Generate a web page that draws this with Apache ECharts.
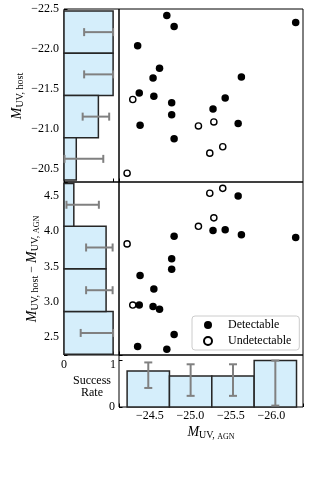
<!DOCTYPE html>
<html><head><meta charset="utf-8">
<script src="https://cdn.jsdelivr.net/npm/echarts/dist/echarts.min.js"></script>
<style>html,body{margin:0;padding:0;background:#fff}#c{width:320px;height:480px}</style>
</head><body><div id="c"></div>
<script>
// ---- scatter data ----
const agnDet  = [-24.71,-24.80,-24.35,-26.30,-24.62,-24.54,-25.63,-24.37,-24.55,-24.77,-25.43,-25.28,-24.77,-24.38,-25.59,-24.80];
const hostDet = [-22.42,-22.28,-22.04,-22.33,-21.76,-21.64,-21.65,-21.45,-21.41,-21.33,-21.39,-21.25,-21.18,-21.05,-21.07,-20.88];
const diffDet = [2.32,2.53,2.36,3.91,2.89,2.93,3.95,2.95,3.18,3.46,4.02,4.01,3.61,3.37,4.50,3.93];
const agnUnd  = [-24.29,-25.10,-25.29,-25.40,-25.24,-24.22];
const hostUnd = [-21.37,-21.04,-21.09,-20.78,-20.70,-20.45];
const diffUnd = [2.95,4.07,4.19,4.61,4.54,3.82];
// ---- success-rate histograms ----
const hostEdges = [-22.475,-21.9475,-21.42,-20.8925,-20.365];
const hostRate  = [1.0,1.0,0.7,0.25];
const hostErrLo = [0.41,0.41,0.38,0.01];
const hostErrHi = [1.0,1.0,0.92,0.80];
const diffEdges = [2.25,2.8575,3.465,4.0725,4.68];
const diffRate  = [1.0,0.857,0.857,0.2];
const diffErrLo = [0.34,0.45,0.45,0.05];
const diffErrHi = [1.0,0.99,0.99,0.71];
const agnEdges  = [-24.22,-24.7425,-25.265,-25.7875,-26.31];
const agnRate   = [0.778,0.667,0.667,1.0];
const agnErrLo  = [0.41,0.24,0.24,0.03];
const agnErrHi  = [0.96,0.92,0.92,1.0];
// ---- tick labels ----
const hostTicks = [-22.5,-22.0,-21.5,-21.0,-20.5];
const diffTicks = [2.5,3.0,3.5,4.0,4.5];
const agnTicks  = [-24.5,-25.0,-25.5,-26.0];

const FONT = 'Liberation Serif';
const FILL = '#d5eefb', EDGE = '#262626', ERR = '#808080';

function binData(edges, rate, lo, hi){
  return rate.map((r,i)=>[edges[i],edges[i+1],r,lo[i],hi[i]]);
}
function fmt(list){
  return function(v){
    for (const t of list){ if (Math.abs(v-t)<1e-6) return (t<0?'\u2212':'')+Math.abs(t).toFixed(1); }
    return '';
  };
}
function histH(params, api){
  const a = api.coord([0, api.value(0)]), b = api.coord([api.value(2), api.value(1)]);
  return {type:'rect', shape:{x:Math.min(a[0],b[0]), y:Math.min(a[1],b[1]), width:Math.abs(b[0]-a[0]), height:Math.abs(b[1]-a[1])},
          style:{fill:FILL, stroke:EDGE, lineWidth:1.5}};
}
function histV(params, api){
  const a = api.coord([api.value(0), 0]), b = api.coord([api.value(1), api.value(2)]);
  return {type:'rect', shape:{x:Math.min(a[0],b[0]), y:Math.min(a[1],b[1]), width:Math.abs(b[0]-a[0]), height:Math.abs(b[1]-a[1])},
          style:{fill:FILL, stroke:EDGE, lineWidth:1.5}};
}
const capH = 4;
const ls = {stroke:ERR, lineWidth:2};
function errH(params, api){
  const c = (api.value(0)+api.value(1))/2;
  const a = api.coord([api.value(3), c]), b = api.coord([api.value(4), c]);
  return {type:'group', children:[
    {type:'line', shape:{x1:a[0],y1:a[1],x2:b[0],y2:b[1]}, style:ls},
    {type:'line', shape:{x1:a[0],y1:a[1]-capH,x2:a[0],y2:a[1]+capH}, style:ls},
    {type:'line', shape:{x1:b[0],y1:b[1]-capH,x2:b[0],y2:b[1]+capH}, style:ls}]};
}
function errV(params, api){
  const c = (api.value(0)+api.value(1))/2;
  const a = api.coord([c, api.value(3)]), b = api.coord([c, api.value(4)]);
  return {type:'group', children:[
    {type:'line', shape:{x1:a[0],y1:a[1],x2:b[0],y2:b[1]}, style:ls},
    {type:'line', shape:{x1:a[0]-capH,y1:a[1],x2:a[0]+capH,y2:a[1]}, style:ls},
    {type:'line', shape:{x1:b[0]-capH,y1:b[1],x2:b[0]+capH,y2:b[1]}, style:ls}]};
}
const zip = (a,b)=>a.map((v,i)=>[v,b[i]]);

const hidden = {axisLine:{show:false}, axisTick:{show:false}, axisLabel:{show:false}, splitLine:{show:false}};
const tick = {show:true, inside:true, length:3.5, lineStyle:{color:'#000', width:1}};
const lab = {fontFamily:FONT, fontSize:12, color:'#000'};
const gridBase = {show:true, borderColor:'#000', borderWidth:1, backgroundColor:'transparent'};
const AGNMIN = -26.39, AGNMAX = -24.12;

const rich = {
  m:{fontFamily:FONT, fontSize:14, fontStyle:'italic', lineHeight:18, color:'#000'},
  s:{fontFamily:FONT, fontSize:10, lineHeight:10, padding:[7,0,0,0], color:'#000'},
  sc:{fontFamily:FONT, fontSize:8, lineHeight:8, padding:[9,0,0,0], color:'#000'},
  t:{fontFamily:FONT, fontSize:12, lineHeight:18, color:'#000'}
};

const option = {
  animation:false,
  backgroundColor:'#fff',
  grid:[
    Object.assign({left:64, top:9, width:55, height:173}, gridBase),
    Object.assign({left:119, top:9, width:184, height:173}, gridBase),
    Object.assign({left:64, top:182, width:55, height:173}, gridBase),
    Object.assign({left:119, top:182, width:184, height:173}, gridBase),
    Object.assign({left:119, top:355, width:184, height:52}, gridBase)
  ],
  xAxis:[
    Object.assign({gridIndex:0, type:'value', min:0, max:1.12, interval:1}, hidden, {axisTick:tick}),
    Object.assign({gridIndex:1, type:'value', inverse:true, min:AGNMIN, max:AGNMAX}, hidden),
    Object.assign({gridIndex:2, type:'value', min:0, max:1.12, interval:1}, hidden, {axisTick:tick,
      axisLabel:Object.assign({show:true, margin:4, formatter:v=>(v===0||v===1)?String(v):''}, lab)}),
    Object.assign({gridIndex:3, type:'value', inverse:true, min:AGNMIN, max:AGNMAX}, hidden),
    Object.assign({gridIndex:4, type:'value', inverse:true, min:AGNMIN, max:AGNMAX, splitNumber:5}, hidden, {axisTick:tick,
      axisLabel:Object.assign({show:true, margin:3, formatter:fmt(agnTicks)}, lab)})
  ],
  yAxis:[
    Object.assign({gridIndex:0, type:'value', inverse:true, min:-22.5, max:-20.34, interval:0.5}, hidden, {axisTick:tick,
      axisLabel:Object.assign({show:true, margin:5, formatter:fmt(hostTicks)}, lab)}),
    Object.assign({gridIndex:1, type:'value', inverse:true, min:-22.5, max:-20.34, interval:0.5}, hidden),
    Object.assign({gridIndex:2, type:'value', min:2.24, max:4.70, splitNumber:5}, hidden, {axisTick:tick,
      axisLabel:Object.assign({show:true, margin:5, formatter:fmt(diffTicks)}, lab)}),
    Object.assign({gridIndex:3, type:'value', min:2.24, max:4.70, splitNumber:5}, hidden),
    Object.assign({gridIndex:4, type:'value', min:0, max:1.12, interval:1}, hidden, {axisTick:tick,
      axisLabel:Object.assign({show:true, margin:4, formatter:v=>v===0?'0':''}, lab)})
  ],
  legend:{
    data:['Detectable','Undetectable'], orient:'vertical', left:192, top:316,
    itemWidth:8, itemHeight:8, itemGap:2, padding:[2,8,2,11], selectedMode:false,
    backgroundColor:'rgba(255,255,255,0.8)', borderColor:'#cccccc', borderWidth:1, borderRadius:3,
    textStyle:{fontFamily:FONT, fontSize:12, color:'#000', lineHeight:14, padding:[0,0,0,11]}
  },
  series:[
    {type:'custom', xAxisIndex:0, yAxisIndex:0, renderItem:histH, data:binData(hostEdges,hostRate,hostErrLo,hostErrHi), silent:true},
    {type:'custom', xAxisIndex:0, yAxisIndex:0, renderItem:errH, data:binData(hostEdges,hostRate,hostErrLo,hostErrHi), silent:true},
    {type:'custom', xAxisIndex:2, yAxisIndex:2, renderItem:histH, data:binData(diffEdges,diffRate,diffErrLo,diffErrHi), silent:true},
    {type:'custom', xAxisIndex:2, yAxisIndex:2, renderItem:errH, data:binData(diffEdges,diffRate,diffErrLo,diffErrHi), silent:true},
    {type:'custom', xAxisIndex:4, yAxisIndex:4, renderItem:histV, data:binData(agnEdges,agnRate,agnErrLo,agnErrHi), silent:true},
    {type:'custom', xAxisIndex:4, yAxisIndex:4, renderItem:errV, data:binData(agnEdges,agnRate,agnErrLo,agnErrHi), silent:true},
    {name:'Detectable', type:'scatter', xAxisIndex:1, yAxisIndex:1, data:zip(agnDet,hostDet), symbol:'circle', symbolSize:7.5,
      itemStyle:{color:'#000', opacity:1}},
    {name:'Undetectable', type:'scatter', xAxisIndex:1, yAxisIndex:1, data:zip(agnUnd,hostUnd), symbol:'circle', symbolSize:6.2,
      itemStyle:{color:'#fff', borderColor:'#000', borderWidth:1.4, opacity:1}},
    {name:'Detectable', type:'scatter', xAxisIndex:3, yAxisIndex:3, data:zip(agnDet,diffDet), symbol:'circle', symbolSize:7.5,
      itemStyle:{color:'#000', opacity:1}},
    {name:'Undetectable', type:'scatter', xAxisIndex:3, yAxisIndex:3, data:zip(agnUnd,diffUnd), symbol:'circle', symbolSize:6.2,
      itemStyle:{color:'#fff', borderColor:'#000', borderWidth:1.4, opacity:1}}
  ],
  graphic:[
    {type:'text', x:17, y:96, rotation:Math.PI/2, style:{text:'{m|M}{s|UV, host}', rich:rich, align:'center', verticalAlign:'middle'}},
    {type:'text', x:32, y:269, rotation:Math.PI/2, style:{text:'{m|M}{s|UV, host}{t| \u2212 }{m|M}{s|UV, }{sc|AGN}', rich:rich, align:'center', verticalAlign:'middle'}},
    {type:'text', x:211, y:432, style:{text:'{m|M}{s|UV, }{sc|AGN}', rich:rich, align:'center', verticalAlign:'middle'}},
    {type:'text', x:92, y:387, style:{text:'Success\nRate', fontFamily:FONT, fontSize:12, lineHeight:12, fill:'#000', align:'center', verticalAlign:'middle'}}
  ]
};
const chart = echarts.init(document.getElementById('c'), null, {renderer:'canvas'});
chart.setOption(option);
</script></body></html>
